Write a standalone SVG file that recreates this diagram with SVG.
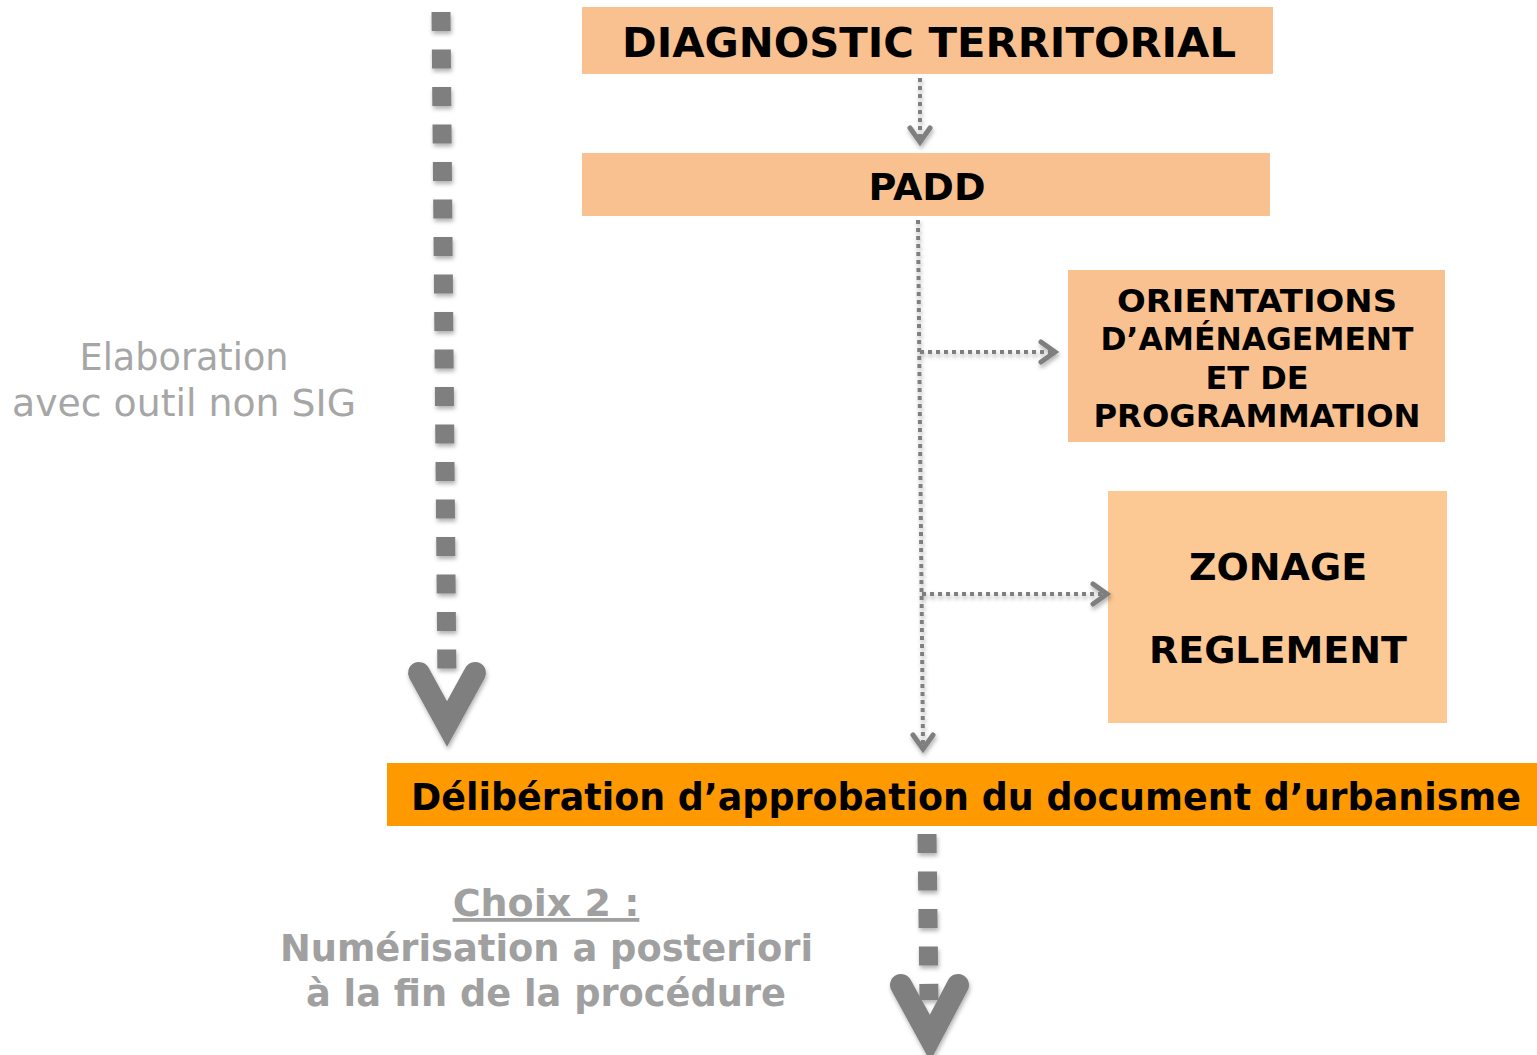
<svg xmlns="http://www.w3.org/2000/svg" width="1537" height="1055" viewBox="0 0 1537 1055">
<style>
.box{fill:#F9C18F}
.t{font-family:"DejaVu Sans","Verdana",sans-serif;font-weight:bold;fill:#000;text-anchor:middle}
.g{font-family:"DejaVu Sans","Verdana",sans-serif;fill:#A6A6A6;text-anchor:middle}
.gb{font-family:"DejaVu Sans","Verdana",sans-serif;font-weight:bold;fill:#A0A0A0;text-anchor:middle}
.big{fill:none;stroke:#7F7F7F;stroke-width:19;stroke-dasharray:19 18.5}
.bighead{fill:none;stroke:#7F7F7F;stroke-width:22;stroke-linecap:round;stroke-linejoin:miter}
.small{fill:none;stroke:#7F7F7F;stroke-width:4;stroke-dasharray:4 4}
.smallhead{fill:none;stroke:#7F7F7F;stroke-width:5;stroke-linecap:round;stroke-linejoin:miter}
</style>
<defs>
<filter id="sh" x="-20%" y="-20%" width="140%" height="140%">
<feDropShadow dx="1" dy="3" stdDeviation="2" flood-color="#000" flood-opacity="0.3"/>
</filter>
</defs>
<g id="diagnostic">
<rect class="box" x="582" y="7" width="691" height="67"/>
<text class="t" x="929" y="57" font-size="40" textLength="614" lengthAdjust="spacingAndGlyphs">DIAGNOSTIC TERRITORIAL</text>
</g>
<g id="padd">
<rect class="box" x="582" y="153" width="688" height="63"/>
<text class="t" x="927" y="200" font-size="37" textLength="117" lengthAdjust="spacingAndGlyphs">PADD</text>
</g>
<g id="oap">
<rect class="box" x="1068" y="270" width="377" height="172"/>
<text class="t" font-size="32"><tspan x="1257" y="312" textLength="280" lengthAdjust="spacingAndGlyphs">ORIENTATIONS</tspan><tspan x="1257" y="350" textLength="313" lengthAdjust="spacingAndGlyphs">D’AMÉNAGEMENT</tspan><tspan x="1257" y="389">ET DE</tspan><tspan x="1257" y="427" textLength="327" lengthAdjust="spacingAndGlyphs">PROGRAMMATION</tspan></text>
</g>
<g id="zonage">
<rect x="1108" y="491" width="339" height="232" fill="#FCC894"/>
<text class="t" font-size="38"><tspan x="1278" y="580">ZONAGE</tspan><tspan x="1278" y="663">REGLEMENT</tspan></text>
</g>
<g id="deliberation">
<rect x="387" y="763" width="1150" height="63" fill="#FF9900"/>
<text class="t" x="966" y="810" font-size="37" textLength="1110" lengthAdjust="spacingAndGlyphs">Délibération d’approbation du document d’urbanisme</text>
</g>
<g id="label-elaboration">
<text class="g" font-size="37"><tspan x="184" y="370" textLength="209" lengthAdjust="spacingAndGlyphs">Elaboration</tspan><tspan x="184" y="416" textLength="344" lengthAdjust="spacingAndGlyphs">avec outil non SIG</tspan></text>
</g>
<g id="label-choix2">
<text class="gb" font-size="38"><tspan x="546" y="916" text-decoration="underline">Choix 2 :</tspan><tspan x="546.5" y="961" textLength="533" lengthAdjust="spacingAndGlyphs">Numérisation a posteriori</tspan><tspan x="546" y="1006" textLength="480" lengthAdjust="spacingAndGlyphs">à la fin de la procédure</tspan></text>
</g>
<g id="connectors" filter="url(#sh)">
<path class="big" d="M441 12 L447 685"/>
<path class="bighead" d="M419 673 L447 724 L475 673"/>
<path class="big" d="M927 834 L929 1000"/>
<path class="bighead" d="M901 985 L930 1038 L958 985"/>
<path class="small" d="M920 78 L920 140"/>
<path class="smallhead" d="M910 128 L920 142 L930 128"/>
<path class="small" d="M918 220 L923 745"/>
<path class="smallhead" d="M913 735 L923 749 L933 735"/>
<path class="small" d="M920 352 L1052 352"/>
<path class="smallhead" d="M1041 342 L1055 352 L1041 362"/>
<path class="small" d="M922 594 L1104 594"/>
<path class="smallhead" d="M1093 584 L1107 594 L1093 604"/>
</g>
</svg>
